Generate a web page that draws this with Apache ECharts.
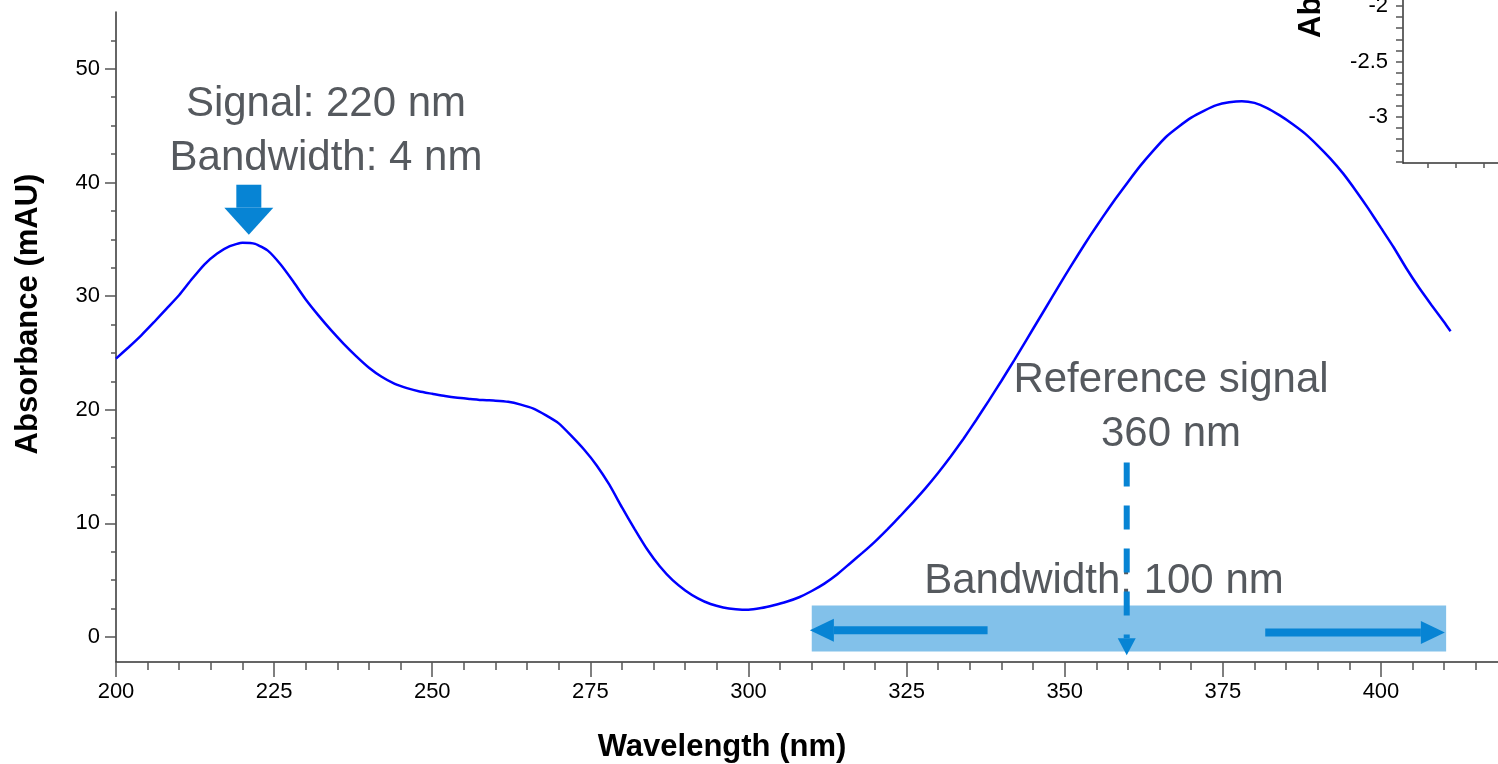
<!DOCTYPE html>
<html><head><meta charset="utf-8">
<script src="https://cdn.jsdelivr.net/npm/echarts@6/dist/echarts.min.js"></script>
<style>html,body{margin:0;padding:0;background:#fff}#c{width:1498px;height:764px}</style>
</head><body><div id="c"></div>
<script>
// ---- data ----
const wavelengths = [200,202,204,206,208,210,212,214,216,218,220,222,224,226,228,230,232,234,236,238,240,242,244,246,248,250,252,254,256,258,260,262,264,266,268,270,272,274,276,278,280,282,284,286,288,290,292,294,296,298,300,302,304,306,308,310,312,314,316,318,320,322,324,326,328,330,332,334,336,338,340,342,344,346,348,350,352,354,356,358,360,362,364,366,368,370,372,374,376,378,380,382,384,386,388,390,392,394,396,398,400,402,404,406,408,410,411];
const absorbance = [24.5,25.5,26.55,27.7,28.9,30.1,31.5,32.8,33.75,34.4,34.7,34.6,34.0,32.8,31.3,29.7,28.3,27.0,25.8,24.7,23.7,22.9,22.3,21.9,21.6,21.4,21.2,21.05,20.95,20.85,20.8,20.7,20.45,20.1,19.5,18.8,17.7,16.5,15.1,13.4,11.4,9.5,7.7,6.2,5.0,4.1,3.4,2.9,2.6,2.45,2.4,2.55,2.8,3.1,3.5,4.05,4.7,5.5,6.45,7.4,8.4,9.5,10.65,11.85,13.1,14.45,15.9,17.45,19.1,20.8,22.55,24.35,26.2,28.05,29.9,31.75,33.55,35.3,36.95,38.55,40.05,41.5,42.8,44.0,44.9,45.7,46.3,46.8,47.05,47.15,47.0,46.55,45.9,45.15,44.3,43.25,42.1,40.8,39.3,37.7,36.0,34.3,32.45,30.75,29.2,27.7,26.9];

const xMajorTicks = [200,225,250,275,300,325,350,375,400];
const xMinorTicks = [205,210,215,220,230,235,240,245,255,260,265,270,280,285,290,295,305,310,315,320,330,335,340,345,355,360,365,370,380,385,390,395,405,410,415];
const yMajorTicks = [0,10,20,30,40,50];
const yMinorTicks = [2.5,5,7.5,12.5,15,17.5,22.5,25,27.5,32.5,35,37.5,42.5,45,47.5,52.5];
const insetYLabels = [-3,-2.5,-2];
const insetYTicks = [-3.4,-3.3,-3.2,-3.1,-3.0,-2.9,-2.8,-2.7,-2.6,-2.5,-2.4,-2.3,-2.2,-2.1,-2.0];
const insetXTicks = [0,1,2];

// annotations (data coordinates)
const annotationTexts = ['Signal: 220 nm\nBandwidth: 4 nm', 'Reference signal\n360 nm', 'Bandwidth: 100 nm'];
const annotationPos = [[233.2,44.45],[366.8,20.2],[356.2,4.9]];
const bandRange = [[310,2.78],[410.3,-1.27]];
const signalArrow = [[221,39.8,221,35.4]];
const referenceArrow = [[359.8,15.35,359.8,-1.6]];
const bandArrows = [[337.8,0.6,309.7,0.6],[381.7,0.4,410.1,0.4]];

const FONT = '"Liberation Sans", Arial, Helvetica, sans-serif';
const BLUE = '#0784d4';

function makeArrowRenderer(opt) {
  return function (params, api) {
    const p0 = api.coord([api.value(0), api.value(1)]);
    const p1 = api.coord([api.value(2), api.value(3)]);
    let dx = p1[0]-p0[0], dy = p1[1]-p0[1];
    const len = Math.sqrt(dx*dx+dy*dy);
    dx/=len; dy/=len;
    const nx = -dy, ny = dx;
    const bx = p1[0]-dx*opt.headLen, by = p1[1]-dy*opt.headLen;
    const children = [];
    if (opt.dash) {
      children.push({type:'line', shape:{x1:p0[0],y1:p0[1],x2:bx,y2:by},
        style:{stroke:BLUE, lineWidth:opt.shaft, lineDash:opt.dash}});
    } else {
      const h = opt.shaft/2;
      children.push({type:'polygon', shape:{points:[
        [p0[0]+nx*h,p0[1]+ny*h],[bx+nx*h,by+ny*h],[bx-nx*h,by-ny*h],[p0[0]-nx*h,p0[1]-ny*h]]},
        style:{fill:BLUE}});
    }
    const w = opt.headW/2;
    children.push({type:'polygon', shape:{points:[[bx+nx*w,by+ny*w],[p1[0],p1[1]],[bx-nx*w,by-ny*w]]}, style:{fill:BLUE}});
    return {type:'group', children};
  };
}

const axisLineStyle = {color:'#333', width:1.5};
const tickStyle = {color:'#555', width:1.5};

const option = {
  animation:false,
  backgroundColor:'#fff',
  grid:[
    {left:116, right:0, top:12, bottom:102, containLabel:false, outerBoundsMode:'none'},
    {left:1403, top:0, width:140, height:163, containLabel:false, outerBoundsMode:'none'}
  ],
  xAxis:[
    {type:'value', gridIndex:0, min:200, max:418.5, position:'bottom',
     name:'Wavelength (nm)', nameLocation:'middle', nameGap:70,
     nameTextStyle:{fontFamily:FONT, fontWeight:'bold', fontSize:31, color:'#000', padding:[0,170,0,0]},
     axisLine:{onZero:false, lineStyle:axisLineStyle},
     axisTick:{customValues:xMajorTicks, length:15, lineStyle:tickStyle},
     axisLabel:{customValues:xMajorTicks, fontFamily:FONT, fontSize:22, color:'#000', margin:19},
     splitLine:{show:false}},
    {type:'value', gridIndex:0, min:200, max:418.5, position:'bottom',
     axisLine:{show:false, onZero:false},
     axisTick:{customValues:xMinorTicks, length:8, lineStyle:tickStyle},
     axisLabel:{show:false}, splitLine:{show:false}},
    {type:'value', gridIndex:1, min:-0.9, max:4.12, position:'bottom',
     axisLine:{onZero:false, lineStyle:axisLineStyle},
     axisTick:{customValues:insetXTicks, length:5, lineStyle:tickStyle},
     axisLabel:{show:false}, splitLine:{show:false}}
  ],
  yAxis:[
    {type:'value', gridIndex:0, min:-2.2, max:55, position:'left',
     name:'Absorbance (mAU)', nameLocation:'middle', nameGap:72,
     nameTextStyle:{fontFamily:FONT, fontWeight:'bold', fontSize:31, color:'#000', padding:[0,0,0,46]},
     axisLine:{onZero:false, lineStyle:axisLineStyle},
     axisTick:{customValues:yMajorTicks, length:11, lineStyle:tickStyle},
     axisLabel:{customValues:yMajorTicks, fontFamily:FONT, fontSize:22, color:'#000', margin:16},
     splitLine:{show:false}},
    {type:'value', gridIndex:0, min:-2.2, max:55, position:'left',
     axisLine:{show:false, onZero:false},
     axisTick:{customValues:yMinorTicks, length:5, lineStyle:tickStyle},
     axisLabel:{show:false}, splitLine:{show:false}},
    {type:'value', gridIndex:1, min:-3.414, max:-1.946, position:'left',
     axisLine:{onZero:false, lineStyle:axisLineStyle},
     axisTick:{customValues:insetYTicks, length:7, lineStyle:tickStyle},
     axisLabel:{customValues:insetYLabels, fontFamily:FONT, fontSize:22, color:'#000', margin:15},
     splitLine:{show:false}}
  ],
  graphic:[
    {type:'text', x:1311, y:38, rotation:Math.PI/2,
     style:{text:'Absorbance (mAU)', font:'bold 31px '+FONT, fill:'#000', align:'left', verticalAlign:'middle'}}
  ],
  series:[
    {type:'line', name:'Absorbance', xAxisIndex:0, yAxisIndex:0,
     data: wavelengths.map((w,i)=>[w, absorbance[i]]),
     showSymbol:false, smooth:0.15, z:3,
     lineStyle:{color:'#0000ff', width:2.5},
     markArea:{silent:true, itemStyle:{color:'#82c1ea'},
       data:[[{coord:bandRange[0]},{coord:bandRange[1]}]]}},
    {type:'custom', name:'labels', xAxisIndex:0, yAxisIndex:0, z:4,
     data: annotationPos,
     renderItem(params, api){
       const p = api.coord([api.value(0), api.value(1)]);
       return {type:'text', x:p[0], y:p[1],
         style:{text:annotationTexts[params.dataIndex], fill:'#55595e', fontSize:42, fontFamily:FONT,
           lineHeight:54, align:'center', verticalAlign:'middle'}};
     }},
    {type:'custom', name:'signalArrow', xAxisIndex:0, yAxisIndex:0, z:5, data:signalArrow,
     renderItem: makeArrowRenderer({shaft:25, headW:49, headLen:27})},
    {type:'custom', name:'referenceArrow', xAxisIndex:0, yAxisIndex:0, z:5, data:referenceArrow,
     renderItem: makeArrowRenderer({shaft:6, headW:18, headLen:17, dash:[24,19]})},
    {type:'custom', name:'bandArrows', xAxisIndex:0, yAxisIndex:0, z:5, data:bandArrows,
     renderItem: makeArrowRenderer({shaft:8, headW:23, headLen:24})}
  ]
};
const chart = echarts.init(document.getElementById('c'), null, {renderer:'canvas'});
chart.setOption(option);
</script>
</body></html>
